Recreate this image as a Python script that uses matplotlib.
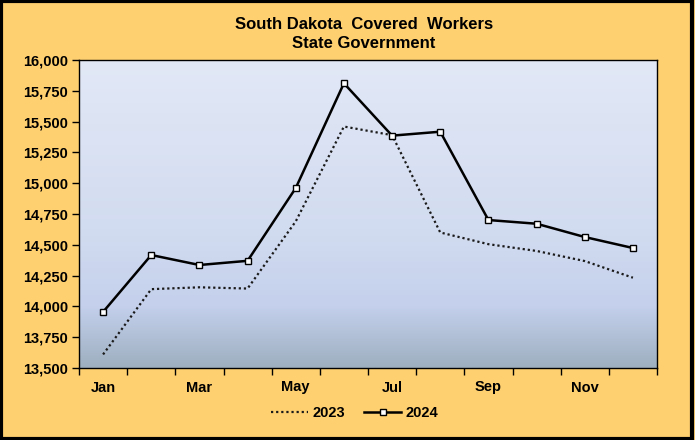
import matplotlib
matplotlib.use("Agg")
import matplotlib.pyplot as plt
import numpy as np
from matplotlib.colors import LinearSegmentedColormap
from matplotlib.ticker import FuncFormatter, MultipleLocator
from matplotlib.patches import Rectangle

months = ["Jan", "Feb", "Mar", "Apr", "May", "Jun", "Jul", "Aug", "Sep", "Oct", "Nov", "Dec"]
tick_labels = ["Jan", "", "Mar", "", "May", "", "Jul", "", "Sep", "", "Nov", ""]
v2023 = [13610, 14140, 14155, 14145, 14690, 15460, 15390, 14600, 14505, 14450, 14368, 14233]
v2024 = [13955, 14417, 14336, 14370, 14961, 15811, 15386, 15418, 14701, 14671, 14563, 14474]
title = "South Dakota  Covered  Workers\nState Government"

plt.rcParams['font.family'] = ['Liberation Sans', 'DejaVu Sans']

fig = plt.figure(figsize=(6.95, 4.40), dpi=100)
fig.patch.set_facecolor('#FFD070')
W, H = 695, 440
ax = fig.add_axes([79 / W, 1 - 368 / H, (657 - 79) / W, (368 - 60) / H])

x = np.arange(len(months))
ax.set_xlim(-0.5, len(months) - 0.5)

# gradient background (light at top, greyish-blue at bottom)
cmap = LinearSegmentedColormap.from_list("bg", [(0.0, '#E2E8F6'), (0.55, '#D2DCF0'), (0.8, '#C4D0EC'), (1.0, '#9EAFC0')])
grad = np.linspace(0, 1, 256).reshape(-1, 1)
ax.imshow(grad, aspect='auto', cmap=cmap, extent=[-0.5, len(months) - 0.5, 13500, 16000], origin='upper', zorder=0)
ax.set_ylim(13500, 16000)

ax.plot(x, v2023, color='#1a1a1a', lw=1.6, linestyle=(0, (1, 1.3)), label='2023', zorder=3)
ax.plot(x, v2024, color='black', lw=1.8, marker='s', markersize=4, markerfacecolor='white',
        markeredgecolor='black', markeredgewidth=1.0, label='2024', zorder=4)

ax.yaxis.set_major_locator(MultipleLocator(250))
ax.yaxis.set_major_formatter(FuncFormatter(lambda v, p: f"{int(v):,}"))
ax.set_xticks(x)
ax.set_xticklabels(tick_labels)
ax.set_xticks(np.arange(-0.5, len(months)), minor=True)
ax.tick_params(axis='x', which='major', length=0, pad=9)
ax.tick_params(axis='x', which='minor', length=5, width=1, direction='out')
ax.tick_params(axis='y', length=5, width=1, direction='out', pad=3)
for lab in ax.get_xticklabels() + ax.get_yticklabels():
    lab.set_fontsize(10.5)
    lab.set_fontweight('bold')
for s in ax.spines.values():
    s.set_linewidth(1.0)
    s.set_color('black')

fig.text(364 / W, 1 - 34 / H, title, ha='center', va='center', fontsize=12, fontweight='bold', linespacing=1.35)

leg = fig.legend(loc='center', bbox_to_anchor=(355 / W, 1 - 413 / H), ncol=2, frameon=False,
                 prop={'weight': 'bold', 'size': 10.5}, handlelength=2.5, columnspacing=1.3, handletextpad=0.35)

fig.patches.append(Rectangle((0.002, 0.003), 0.994, 0.994, transform=fig.transFigure,
                             fill=False, edgecolor='black', linewidth=3, zorder=10))

fig.savefig("out.png", dpi=100, facecolor=fig.get_facecolor())
